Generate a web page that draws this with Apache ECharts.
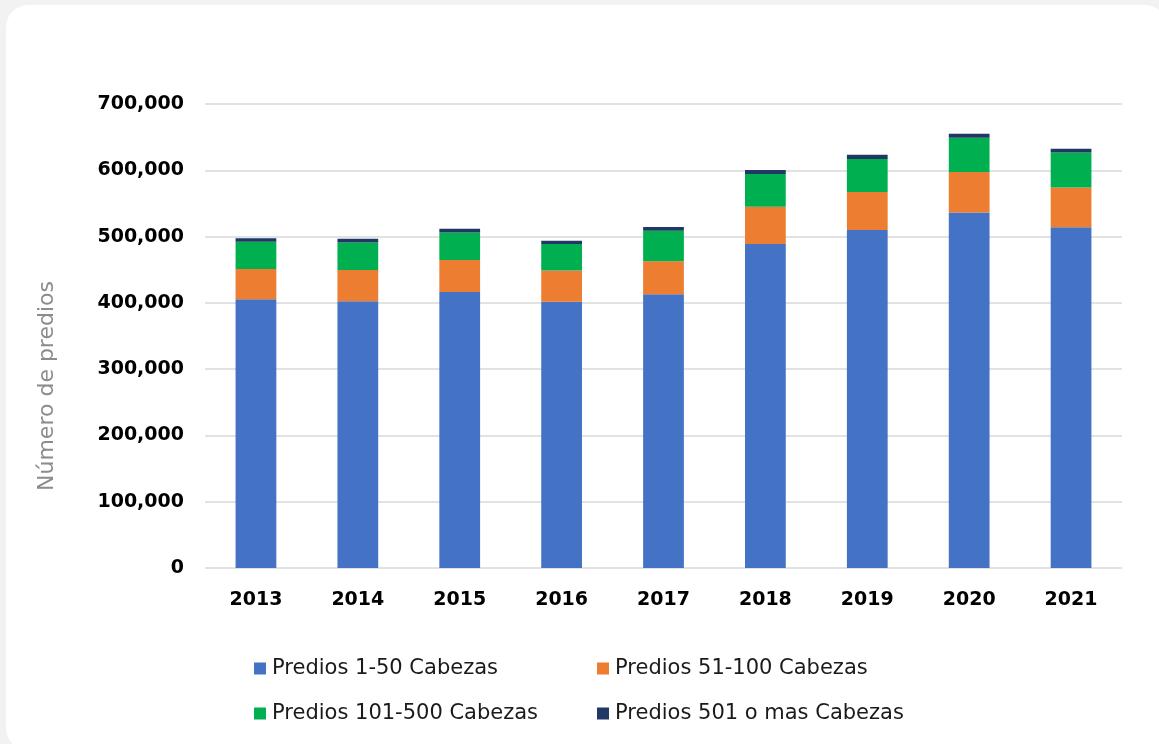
<!DOCTYPE html>
<html>
<head>
<meta charset="utf-8">
<script src="https://cdn.jsdelivr.net/npm/echarts@6/dist/echarts.min.js"></script>
<style>
  html, body { margin: 0; padding: 0; width: 1159px; height: 744px; background: #f2f2f2; overflow: hidden; }
  #card { position: absolute; left: 6px; top: 5px; width: 1161px; height: 745px; background: #ffffff; border-radius: 22px; }
  #chart { position: absolute; left: 0; top: 0; width: 1159px; height: 744px; }
</style>
</head>
<body>
<div id="card"></div>
<div id="chart"></div>
<script>
const years = ['2013', '2014', '2015', '2016', '2017', '2018', '2019', '2020', '2021'];
const seriesNames = ['Predios 1-50 Cabezas', 'Predios 51-100 Cabezas', 'Predios 101-500 Cabezas', 'Predios 501 o mas Cabezas'];
const predios1a50 = [405300, 402300, 416300, 401700, 412800, 488700, 509800, 536500, 513900];
const predios51a100 = [45700, 47200, 48300, 47300, 49800, 56300, 57300, 60800, 60300];
const predios101a500 = [41200, 41700, 41700, 39700, 46100, 49300, 49800, 51700, 52800];
const predios501mas = [5100, 5500, 5500, 5000, 5600, 6000, 6500, 6000, 5400];
const yAxisTitle = 'Número de predios';
const colors = ['#4472C4', '#ED7D31', '#00B050', '#203864'];
const allData = [predios1a50, predios51a100, predios101a500, predios501mas];

const chart = echarts.init(document.getElementById('chart'), null, { renderer: 'canvas' });

const legendPos = [
  { left: 254, top: 658 },
  { left: 597, top: 658 },
  { left: 254, top: 703 },
  { left: 597, top: 703 }
];

const option = {
  backgroundColor: 'transparent',
  animation: false,
  color: colors,
  grid: { left: 205, right: 37, top: 104, bottom: 176 },
  graphic: [{
    type: 'text',
    x: 47,
    y: 386,
    rotation: Math.PI / 2,
    style: {
      text: yAxisTitle,
      fontFamily: 'DejaVu Sans',
      fontSize: 22,
      fill: '#8c8c8c',
      textAlign: 'center',
      textVerticalAlign: 'middle'
    }
  }],
  legend: seriesNames.map((n, i) => ({
    data: [n],
    left: legendPos[i].left,
    top: legendPos[i].top,
    padding: 0,
    icon: 'rect',
    itemWidth: 12,
    itemHeight: 12,
    itemGap: 0,
    textStyle: { fontFamily: 'DejaVu Sans', fontSize: 21, color: '#1a1a1a', padding: [0, 0, 0, 1] }
  })),
  xAxis: {
    type: 'category',
    data: years,
    axisLine: { show: false },
    axisTick: { show: false },
    axisLabel: { fontFamily: 'DejaVu Sans', fontWeight: 'bold', fontSize: 19, color: '#000', margin: 23 }
  },
  yAxis: {
    type: 'value',
    min: 0,
    max: 700000,
    interval: 100000,
    axisLine: { show: false },
    axisTick: { show: false },
    splitLine: { lineStyle: { color: '#d9d9d9', width: 1.5 } },
    axisLabel: {
      fontFamily: 'DejaVu Sans', fontWeight: 'bold', fontSize: 19, color: '#000', margin: 21,
      formatter: v => v.toLocaleString('en-US')
    }
  },
  series: seriesNames.map((n, i) => ({
    name: n,
    type: 'bar',
    stack: 'total',
    barWidth: '40%',
    data: allData[i],
    itemStyle: { color: colors[i] }
  }))
};
chart.setOption(option);
</script>
</body>
</html>
